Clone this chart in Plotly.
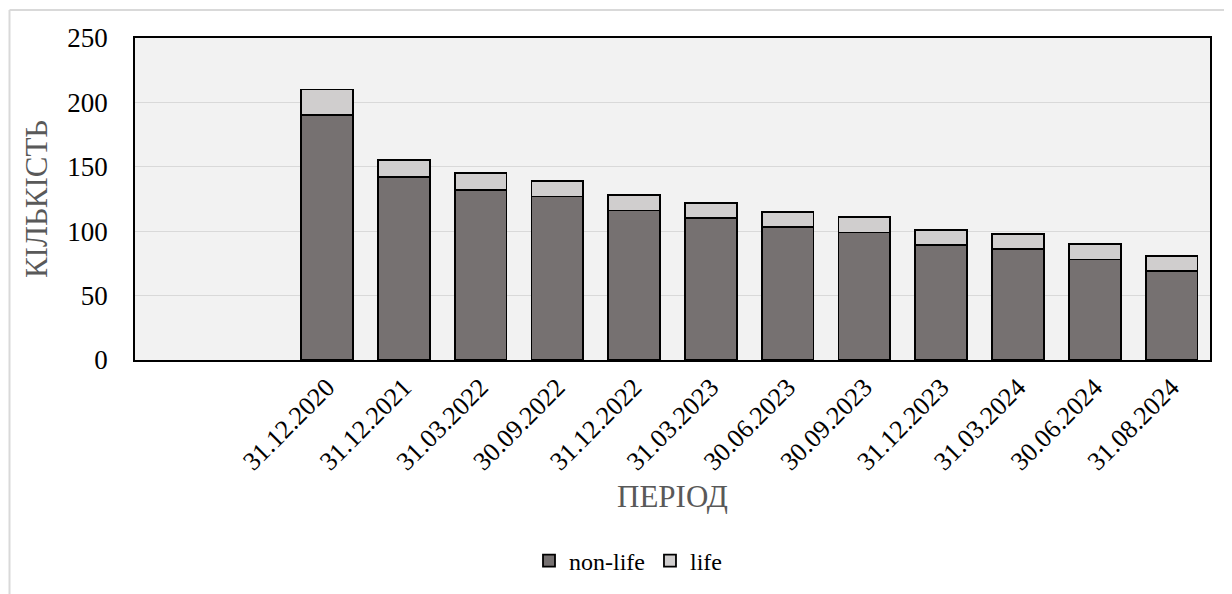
import plotly.graph_objects as go

# ---- data ----
periods = ["31.12.2020", "31.12.2021", "31.03.2022", "30.09.2022", "31.12.2022",
           "31.03.2023", "30.06.2023", "30.09.2023", "31.12.2023", "31.03.2024",
           "30.06.2024", "31.08.2024"]
non_life = [190, 142, 132, 127, 116, 110, 103, 99, 89, 86, 78, 69]
life = [20, 13, 13, 12, 12, 12, 12, 12, 12, 12, 12, 12]
empty_slots = 2  # two empty category slots precede the first period

xpos = [empty_slots + i for i in range(len(periods))]
n_slots = empty_slots + len(periods)

FONT = "Liberation Serif"

fig = go.Figure()
fig.add_trace(go.Bar(x=xpos, y=non_life, name="non-life",
                     marker=dict(color="#767171", line=dict(color="#000000", width=1.8))))
fig.add_trace(go.Bar(x=xpos, y=life, name="life",
                     marker=dict(color="#D0CECE", line=dict(color="#000000", width=1.8))))

# page offset of the figure inside the browser (body margin)
OFF = 8
W, H = 1232, 594
L, R, T, B = 135 - OFF, 22 + OFF, 38 - OFF, 234 + OFF
pw, ph = W - L - R, H - T - B

def px(xs):
    return (xs - OFF - L) / pw

def py(ys):
    return (H - B - (ys - OFF)) / ph

fig.update_layout(
    width=W, height=H,
    barmode="stack", bargap=0.325,
    margin=dict(l=L, r=R, t=T, b=B, autoexpand=False),
    paper_bgcolor="#FFFFFF", plot_bgcolor="#F2F2F2",
    font=dict(family=FONT, color="#000000", size=24),
    legend=dict(orientation="h", x=px(628), xanchor="center", y=py(561), yanchor="middle",
                font=dict(family=FONT, size=24, color="#000000"),
                traceorder="normal", itemwidth=30, bgcolor="rgba(0,0,0,0)"),
    xaxis=dict(range=[-0.5, n_slots - 0.5], tickmode="array", tickvals=xpos, ticktext=periods,
               tickangle=-45, tickfont=dict(family=FONT, size=26, color="#000000"),
               showgrid=False, zeroline=False, showline=True, linecolor="#000000",
               linewidth=1.5, mirror=True, ticks="",
               title=dict(text="ПЕРІОД", font=dict(family=FONT, size=31, color="#595959"),
                          standoff=10)),
    yaxis=dict(range=[0, 250], tickmode="array", tickvals=[0, 50, 100, 150, 200, 250],
               tickfont=dict(family=FONT, size=27, color="#000000"),
               showgrid=True, gridcolor="#D9D9D9", gridwidth=1.2, zeroline=False,
               showline=True, linecolor="#000000", linewidth=1.5, mirror=True, ticks="",
               ticklabelstandoff=20,
               title=dict(text="КІЛЬКІСТЬ", font=dict(family=FONT, size=31, color="#595959"),
                          standoff=10)),
    shapes=[
        dict(type="line", xref="paper", yref="paper", x0=px(9.5), x1=px(9.5), y0=py(10), y1=py(640),
             line=dict(color="#D9D9D9", width=2)),
        dict(type="line", xref="paper", yref="paper", x0=px(9.5), x1=px(1280), y0=py(10), y1=py(10),
             line=dict(color="#D9D9D9", width=2)),
    ],
)

fig.write_html("out.html")
